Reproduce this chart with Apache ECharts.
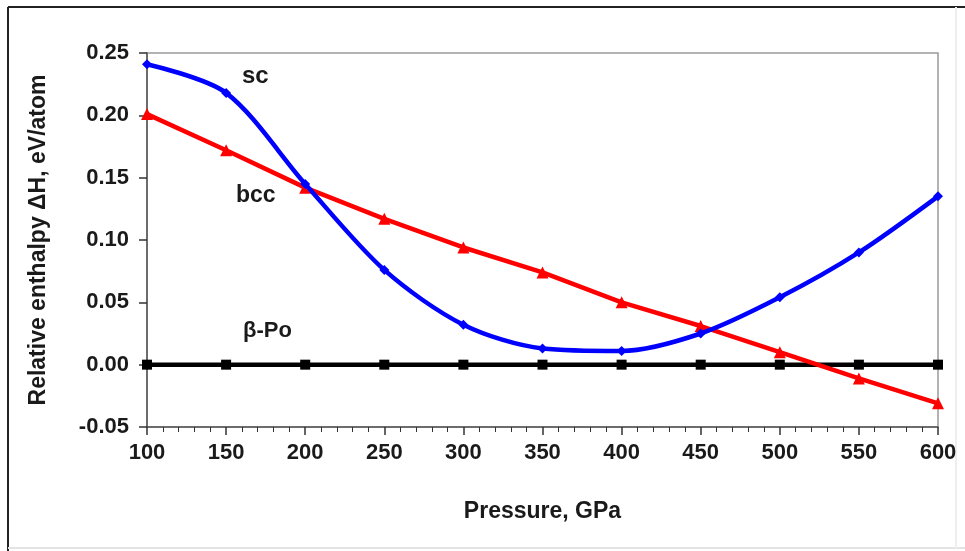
<!DOCTYPE html>
<html>
<head>
<meta charset="utf-8">
<script src="https://cdn.jsdelivr.net/npm/echarts@6/dist/echarts.min.js"></script>
<style>
  html, body { margin: 0; padding: 0; background: #fff; }
  #chart { width: 965px; height: 551px; }
</style>
</head>
<body>
<div id="chart"></div>
<script>
const pressure = [100, 150, 200, 250, 300, 350, 400, 450, 500, 550, 600];
const sc = [0.241, 0.218, 0.145, 0.076, 0.032, 0.013, 0.011, 0.025, 0.054, 0.090, 0.135];
const bcc = [0.201, 0.172, 0.142, 0.117, 0.094, 0.074, 0.050, 0.031, 0.010, -0.011, -0.031];
const betaPo = [0, 0, 0, 0, 0, 0, 0, 0, 0, 0, 0];

const font = "'Liberation Sans', Arial, sans-serif";
const ink = "#1a1a1a";
const pairs = (ys) => pressure.map((x, i) => [x, ys[i]]);

const chart = echarts.init(document.getElementById("chart"));

chart.setOption({
  animation: false,
  backgroundColor: "#fff",
  grid: {
    left: 147, right: 27, top: 53, bottom: 124,
    show: true, borderColor: "#9a9a9a", borderWidth: 1.5,
  },
  xAxis: {
    type: "value",
    min: 100, max: 600, interval: 50,
    name: "Pressure, GPa",
    nameLocation: "middle",
    nameGap: 73,
    nameTextStyle: { fontFamily: font, fontWeight: "bold", fontSize: 23, color: ink },
    axisLine: { onZero: false, lineStyle: { color: "#555", width: 1.5 } },
    axisTick: { length: 8, lineStyle: { color: "#333", width: 1.5 } },
    minorTick: { show: true, splitNumber: 5, length: 5, lineStyle: { color: "#333" } },
    axisLabel: { fontFamily: font, fontWeight: "bold", fontSize: 22, color: ink, margin: 15 },
    splitLine: { show: false },
  },
  yAxis: {
    type: "value",
    min: -0.05, max: 0.25, interval: 0.05,
    name: "Relative enthalpy \u0394H, eV/atom",
    nameLocation: "middle",
    nameGap: 97,
    nameTextStyle: { fontFamily: font, fontWeight: "bold", fontSize: 23, color: ink },
    axisLine: { show: true, lineStyle: { color: "#555", width: 1.5 } },
    axisTick: { show: true, length: 8, lineStyle: { color: "#333", width: 1.5 } },
    axisLabel: {
      fontFamily: font, fontWeight: "bold", fontSize: 22, color: ink, margin: 18,
      formatter: (v) => v.toFixed(2),
    },
    splitLine: { show: false },
  },
  series: [
    {
      name: "β-Po",
      type: "line",
      data: pairs(betaPo),
      symbol: "rect",
      symbolSize: 10,
      lineStyle: { color: "#000", width: 4.5 },
      itemStyle: { color: "#000" },
      z: 2,
    },
    {
      name: "bcc",
      type: "line",
      data: pairs(bcc),
      symbol: "triangle",
      symbolSize: 12,
      lineStyle: { color: "#ff0000", width: 4.5 },
      itemStyle: { color: "#ff0000" },
      z: 3,
    },
    {
      name: "sc",
      type: "line",
      data: pairs(sc),
      smooth: 0.3,
      symbol: "diamond",
      symbolSize: 10,
      lineStyle: { color: "#0000ff", width: 4.5 },
      itemStyle: { color: "#0000ff" },
      z: 4,
    },
  ],
  graphic: [
    { type: "line", shape: { x1: 8, y1: 7, x2: 965, y2: 7 }, style: { stroke: "#222", lineWidth: 2 } },
    { type: "line", shape: { x1: 8, y1: 7, x2: 8, y2: 551 }, style: { stroke: "#222", lineWidth: 2 } },
    { type: "line", shape: { x1: 8, y1: 548, x2: 965, y2: 548 }, style: { stroke: "#e4e4e4", lineWidth: 2 } },
    { type: "line", shape: { x1: 956, y1: 7, x2: 956, y2: 548 }, style: { stroke: "#eeeeee", lineWidth: 2 } },
    { type: "text", left: 242, top: 64, style: { text: "sc", font: "bold 24px " + font, fill: ink } },
    { type: "text", left: 236, top: 184, style: { text: "bcc", font: "bold 23px " + font, fill: ink } },
    { type: "text", left: 243, top: 320, style: { text: "β-Po", font: "bold 22px " + font, fill: ink } },
  ],
});
</script>
</body>
</html>
